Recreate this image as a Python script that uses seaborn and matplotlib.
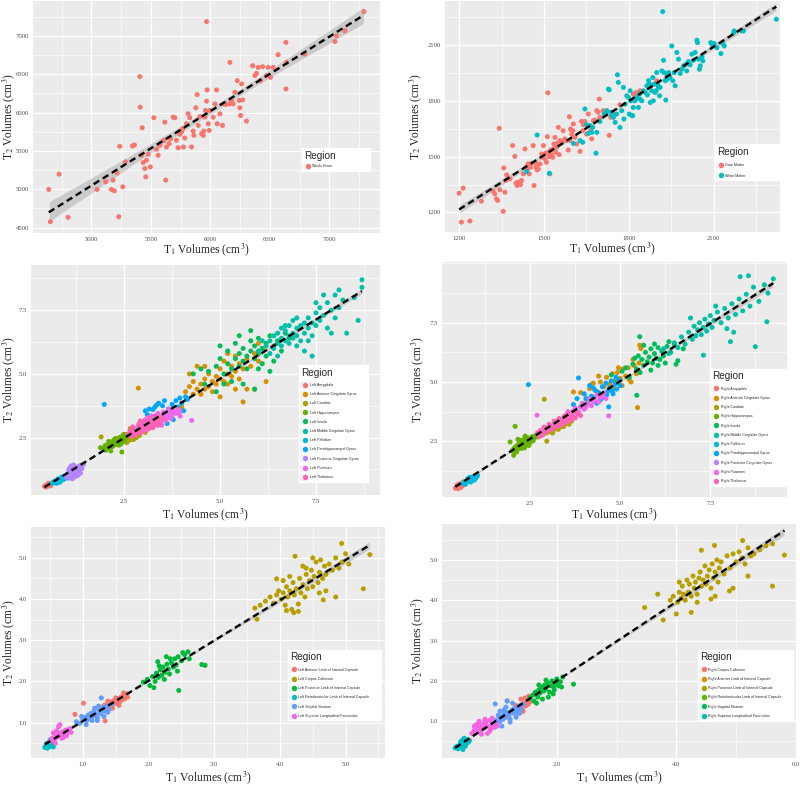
import matplotlib
matplotlib.use("Agg")
import matplotlib.pyplot as plt
import numpy as np
import pandas as pd
import seaborn as sns
from matplotlib.lines import Line2D
from matplotlib.legend_handler import HandlerTuple
from matplotlib.ticker import AutoMinorLocator, FormatStrFormatter

# ---------------- Panel 1: whole brain ----------------
WB_X = [4641,4655,4728,4804,5048,5121,5168,5182,5193,5216,5230,5238,5264,5286,5345,5362,5407,5410,5427,5421,
        5435,5449,5457,5463,5477,5496,5525,5547,5561,5575,5609,5617,5625,5631,5654,5665,5687,5701,5715,5729,
        5743,5757,5766,5774,5785,5799,5813,5827,5842,5855,5861,5878,5889,5898,5912,5926,5940,5945,5955,5959,
        5968,5968,5973,5982,5990,5996,6024,6038,6052,6057,6080,6102,6113,6130,6164,6164,6178,6192,6206,6226,
        6243,6248,6254,6263,6271,6304,6355,6374,6388,6402,6422,6439,6472,6486,6506,6528,6570,6635,6635,6640,
        6794,7047,7061,7131,7291]
WB_Y = [4998,4578,5197,4634,4998,5097,4998,5119,4980,5214,4643,5560,5032,5357,5564,5577,6468,6070,5802,5443,
        5348,5270,5162,5378,5456,5292,5932,5521,5443,5573,5638,5875,5119,5551,5594,5659,5940,5932,5638,5542,
        5716,5746,5789,5551,5668,5854,5984,5932,5551,5759,5703,6062,6234,5832,5949,5724,5703,5759,5940,6027,
        7186,6148,6295,5854,5767,6027,5940,6113,6295,5854,5984,5832,6113,6105,6654,6113,6157,6113,6264,6416,
        6157,6062,5962,6373,6165,5889,6611,6481,6511,6589,6416,6598,6481,6589,6459,6589,6754,6914,6308,6654,
        6762,6926,7000,7065,7316]

# ---------------- Panel 2: gray / white matter ----------------
GM_X = [1200,1214,1208,1238,1279,1320,1326,1332,1336,1342,1344,1356,1358,1365,1368,1362,1380,1389,1397,1401,
        1405,1409,1413,1417,1421,1427,1433,1436,1441,1444,1448,1453,1456,1462,1465,1472,1474,1476,1480,1486,
        1492,1495,1498,1504,1507,1509,1512,1514,1515,1519,1521,1524,1527,1531,1533,1535,1539,1542,1545,1547,
        1551,1554,1557,1563,1568,1574,1580,1586,1590,1592,1594,1598,1602,1604,1610,1616,1628,1633,1637,1639,
        1645,1651,1657,1661,1665,1669,1675,1681,1687,1692,1696,1698,1710,1722,1731,1736,1746,1769,1816,1826,
        1840,1899]
GM_Y = [1304,1331,1148,1154,1261,1315,1300,1273,1265,1653,1322,1206,1440,1372,1402,1309,1381,1560,1502,1358,
        1345,1363,1354,1350,1372,1408,1542,1443,1434,1461,1408,1443,1465,1560,1345,1443,1461,1429,1434,1461,
        1515,1497,1560,1488,1519,1470,1608,1844,1524,1501,1408,1536,1511,1497,1542,1569,1604,1524,1551,1572,
        1658,1511,1587,1578,1640,1596,1587,1536,1715,1587,1649,1622,1640,1676,1604,1569,1529,1690,1640,1672,
        1690,1622,1730,1667,1640,1596,1694,1697,1748,1739,1810,1712,1748,1744,1615,1712,1730,1780,1837,1846,
        1855,1909]
WM_X = [1439,1476,1519,1604,1628,1637,1645,1651,1657,1663,1669,1672,1684,1687,1698,1713,1722,1728,1731,1736,
        1740,1746,1752,1757,1760,1763,1769,1775,1781,1783,1787,1793,1799,1802,1805,1807,1811,1814,1816,1822,
        1828,1834,1838,1840,1846,1852,1858,1864,1866,1870,1873,1876,1881,1885,1887,1890,1893,1897,1899,1902,
        1905,1909,1911,1917,1920,1923,1925,1929,1931,1935,1937,1941,1944,1946,1952,1956,1961,1964,1970,1976,
        1982,1988,1994,2003,2005,2011,2017,2023,2029,2035,2041,2043,2047,2050,2053,2059,2062,2090,2094,2102,
        2112,2126,2133,2138,2171,2173,2200,2206,2322]
WM_Y = [1420,1617,1411,1572,1587,1578,1757,1672,1626,1667,1631,1658,1519,1631,1690,1730,1748,1864,1860,1739,
        1721,1712,1685,1730,1941,1900,1658,1748,1873,1703,1783,1828,1819,1730,1855,1801,1721,1721,1765,1801,
        1819,1765,1837,1810,1801,1855,1846,1882,1833,1909,1891,1792,1855,1926,1801,1891,1846,1855,1953,1891,
        1876,1828,1873,1962,2281,2019,1953,1909,1805,1944,1918,1953,1930,1926,2096,1909,1953,1882,2061,2025,
        1948,1971,1989,1998,1962,2012,1994,2052,2019,2061,2127,2114,2025,1971,1989,2037,2016,2114,2105,2109,
        2087,2055,2109,2096,2168,2177,2177,2177,2240]

# ---------------- Panel 3: left grey-matter regions ----------------
L_AMY_X = [0.42,0.45,0.48,0.50,0.52,0.55,0.57,0.60,0.62,0.46,0.53,0.58,0.65,0.50,0.56]
L_AMY_Y = [0.58,0.62,0.57,0.65,0.60,0.63,0.68,0.66,0.71,0.55,0.70,0.60,0.74,0.59,0.64]
L_ACG_X = [4.1,4.2,4.3,4.3,4.4,4.4,4.5,4.5,4.6,4.6,4.7,4.7,4.8,4.8,4.9,4.9,5.0,5.0,5.1,5.1,5.2,5.2,5.3,5.3,
           5.4,5.4,5.5,5.5,5.6,5.7,5.7,5.8,5.9,6.0,6.1,5.6,5.9,6.2,4.0,2.87,4.2,5.0,5.4,4.6,5.2,6.0]
L_ACG_Y = [4.3,4.5,4.2,4.7,4.4,5.3,4.6,4.2,4.8,4.4,4.5,5.0,4.7,4.3,4.9,4.6,4.8,5.2,4.7,5.5,5.0,4.6,5.3,4.9,
           5.1,5.7,4.8,5.4,5.2,5.6,4.4,5.3,5.8,5.5,6.0,3.9,4.4,4.7,3.7,4.44,5.0,4.1,4.4,5.3,5.8,6.2]
L_CAU_X = [1.90,2.35,2.40,2.45,2.50,2.52,2.55,2.58,2.60,2.62,2.65,2.68,2.70,2.72,2.75,2.78,2.80,2.85,2.88,2.90,
           2.95,3.00,3.05,3.10,2.48,2.66,2.82,2.57,2.92,2.74]
L_CAU_Y = [2.52,2.35,2.45,2.40,2.55,2.35,2.50,2.62,2.45,2.58,2.40,2.68,2.52,2.75,2.60,2.48,2.70,2.65,2.82,2.58,
           2.75,2.80,2.70,2.90,2.62,2.85,2.50,2.30,2.95,2.42]
L_HIP_X = [1.88,1.95,2.00,2.05,2.08,2.12,2.15,2.18,2.20,2.22,2.25,2.28,2.30,2.33,2.35,2.38,2.40,2.42,2.45,2.48,
           2.50,2.55,2.14,2.44,2.02,2.26,2.36,2.52,2.60,2.10]
L_HIP_Y = [2.10,2.05,2.18,2.12,2.25,2.20,1.97,2.30,2.15,2.38,2.28,2.22,2.45,2.35,2.30,2.50,2.40,2.25,2.55,2.45,
           2.35,2.50,2.08,1.93,2.00,2.45,2.20,2.62,2.55,2.35]
L_INS_X = [4.3,4.5,4.7,4.9,5.0,5.1,5.2,5.2,5.3,5.4,5.4,5.5,5.5,5.6,5.6,5.7,5.7,5.8,5.8,5.9,5.9,6.0,6.0,6.1,
           6.1,6.2,6.2,6.3,6.4,6.5,6.6,6.7,5.3,5.6,5.9,6.3,4.9,5.0,5.5,5.8,6.0,6.4,4.6,5.1,6.8]
L_INS_Y = [5.0,5.2,5.1,5.3,5.6,5.0,5.4,5.9,5.2,5.6,6.2,5.3,5.8,5.5,6.0,5.7,5.2,5.9,6.3,5.6,6.1,5.8,6.4,6.0,
           5.4,6.2,5.7,6.5,6.1,6.3,5.9,6.6,4.7,4.6,4.4,5.1,4.3,6.1,6.5,6.7,5.2,5.5,4.6,4.6,6.4]
L_MCG_X = [6.2,6.3,6.4,6.4,6.5,6.5,6.6,6.6,6.7,6.7,6.8,6.8,6.8,6.9,6.9,7.0,7.0,7.0,7.1,7.1,7.2,7.2,7.3,7.3,
           7.4,7.4,7.5,7.5,7.6,7.6,7.7,7.8,7.8,7.9,8.0,8.0,8.1,8.2,8.3,8.5,8.6,8.7,8.7,6.0,6.1,6.3,6.5,6.7,
           7.0,7.2,7.4,6.9,7.5,7.9,8.1,7.7,6.6,7.3]
L_MCG_Y = [6.1,6.3,6.0,6.5,6.2,6.6,6.4,6.1,6.7,6.3,6.5,6.9,6.2,6.6,6.4,6.8,6.1,6.5,6.9,6.3,7.0,6.6,6.8,7.2,
           6.5,7.0,7.4,6.9,7.1,7.6,7.3,7.8,6.8,7.5,7.2,8.1,7.6,7.9,6.6,8.0,7.1,8.4,8.7,5.9,6.3,5.8,5.7,6.9,
           7.2,5.9,5.7,7.1,7.8,6.6,8.3,8.1,6.8,6.3]
L_PAL_X = [0.62,0.66,0.70,0.72,0.75,0.78,0.80,0.83,0.85,0.88,0.90,0.93,0.68,0.74,0.82,0.87,0.95,0.77]
L_PAL_Y = [0.70,0.74,0.72,0.80,0.76,0.82,0.78,0.85,0.80,0.88,0.84,0.92,0.78,0.70,0.74,0.95,0.88,0.87]
L_PHG_X = [1.98,2.75,2.85,2.95,3.05,3.15,3.20,3.30,3.40,3.45,3.50,3.55,3.60,3.65,3.70,3.75,3.80,3.85,3.90,3.95,
           4.00,4.05,4.10,3.25,3.35,3.62,3.78,3.92,3.10,4.15]
L_PHG_Y = [3.80,2.68,2.80,2.75,3.55,3.62,2.90,3.70,3.85,3.10,3.75,3.95,3.40,3.62,3.30,3.80,3.48,3.95,3.70,4.05,
           3.85,3.55,4.10,3.60,3.78,3.05,3.20,3.45,3.40,4.00]
L_PCG_X = [0.98,1.02,1.05,1.08,1.10,1.12,1.15,1.18,1.20,1.22,1.25,1.28,1.30,1.33,1.36,1.40,1.05,1.12,1.18,1.24,
           1.30,1.15,1.22,1.08,1.35,1.27,1.44]
L_PCG_Y = [0.95,1.05,0.90,1.10,1.00,1.20,1.08,1.30,0.95,1.15,1.25,1.05,1.35,1.18,1.10,1.28,1.22,1.38,1.42,0.98,
           1.02,0.88,1.32,1.30,1.40,1.20,1.45]
L_PUT_X = [2.90,2.95,3.00,3.05,3.10,3.15,3.20,3.25,3.30,3.35,3.40,3.45,3.50,3.55,3.60,3.65,3.70,3.75,3.80,3.85,
           3.90,3.95,3.12,3.28,3.42,3.58,3.72,3.38,3.52,3.66,3.22,4.26,3.96,3.05,3.48]
L_PUT_Y = [2.95,2.85,3.05,2.92,3.10,3.00,3.15,3.05,3.25,3.12,3.30,3.18,3.35,3.25,3.40,3.30,3.50,3.38,3.55,3.45,
           3.60,3.52,3.28,2.95,3.05,3.15,3.25,3.45,3.50,3.62,3.35,3.17,3.34,3.20,2.98]
L_THA_X = [2.60,2.65,2.70,2.75,2.80,2.85,2.90,2.95,3.00,3.05,3.10,3.15,3.20,3.25,3.30,3.35,3.40,3.45,3.50,2.72,
           2.88,3.02,3.18,3.32,2.78,2.94,3.08,3.24,3.38,2.68,2.84,3.00,3.14,3.28,3.44,2.92]
L_THA_Y = [2.62,2.75,2.68,2.82,2.72,2.90,2.80,2.98,2.88,3.05,2.95,3.12,3.02,3.20,3.08,3.25,3.15,3.30,3.22,2.92,
           3.02,3.12,3.25,3.35,2.60,2.70,2.78,2.88,2.98,2.55,2.65,2.78,2.85,2.95,3.08,3.15]

# ---------------- Panel 4: right grey-matter regions ----------------
R_AMY_X = [0.42,0.45,0.48,0.50,0.52,0.55,0.58,0.60,0.62,0.65,0.68,0.47,0.53,0.57,0.63,0.70,0.50,0.60]
R_AMY_Y = [0.52,0.58,0.55,0.62,0.58,0.65,0.60,0.70,0.64,0.72,0.68,0.66,0.70,0.55,0.78,0.75,0.50,0.60]
R_ACG_X = [3.70,3.90,4.05,4.15,4.25,4.35,4.45,4.55,4.62,4.70,4.78,4.85,4.92,5.00,5.08,5.15,5.22,5.30,5.38,5.45,
           5.52,5.48,5.57,5.54,4.40,4.60,4.80,5.05,5.25,4.95,5.35,4.20]
R_ACG_Y = [4.58,4.55,4.30,4.72,4.95,4.60,5.00,4.80,5.20,4.90,5.35,5.05,5.40,5.15,5.55,5.25,5.60,5.00,5.70,5.35,
           5.80,3.92,6.41,6.55,5.25,4.50,4.70,4.85,5.10,5.60,5.95,4.90]
R_CAU_X = [2.75,2.80,2.85,2.90,2.95,3.00,3.05,3.10,3.15,3.20,3.25,3.30,3.35,3.40,3.45,3.50,3.55,3.60,3.65,2.89,
           2.96,3.12,3.28,3.42,3.58,3.02,3.18,3.34]
R_CAU_Y = [2.72,2.85,2.78,2.92,2.85,3.00,2.90,3.08,2.98,3.15,3.05,3.20,3.12,3.28,3.18,3.32,3.25,3.40,3.35,4.27,
           2.50,2.85,3.00,3.12,3.22,3.05,3.25,3.38]
R_HIP_X = [1.94,2.00,2.05,2.10,2.15,2.18,2.20,2.22,2.25,2.28,2.30,2.32,2.35,2.38,2.40,2.42,2.45,2.48,2.50,2.55,
           2.60,2.65,2.70,2.08,2.04,2.12,2.26,2.36,2.46,2.58,2.16,2.34]
R_HIP_Y = [2.47,2.10,2.20,2.28,2.15,2.40,2.30,2.48,2.35,2.55,2.42,2.30,2.60,2.48,2.38,2.65,2.50,2.58,2.45,2.70,
           2.62,2.75,2.68,3.13,1.91,2.05,2.20,2.72,2.32,2.52,2.58,2.22]
R_INS_X = [4.75,4.90,5.05,5.15,5.25,5.35,5.45,5.50,5.55,5.60,5.65,5.70,5.75,5.80,5.85,5.90,5.95,6.00,6.05,6.10,
           6.15,6.20,6.30,6.40,6.50,6.60,6.75,5.54,5.46,5.65,5.85,6.05,6.25,6.35,5.40,5.95,6.55]
R_INS_Y = [5.30,5.00,5.45,5.60,5.20,5.75,5.55,6.10,5.40,5.95,5.70,6.25,5.85,6.05,6.40,5.80,6.20,6.00,6.45,5.95,
           6.30,6.10,6.50,6.25,6.60,5.90,6.40,6.91,4.44,6.55,5.50,5.70,5.80,6.70,6.00,6.60,5.75]
R_MCG_X = [6.20,6.35,6.50,6.60,6.70,6.80,6.90,7.00,7.05,7.10,7.15,7.20,7.25,7.30,7.35,7.40,7.45,7.50,7.55,7.60,
           7.70,7.80,7.90,8.00,8.10,8.20,8.30,8.40,8.50,8.60,8.70,8.85,9.00,9.10,9.25,8.33,8.56,7.31,8.06,8.75,
           9.07,7.96,6.95,7.65,8.15]
R_MCG_Y = [6.40,6.20,6.65,6.45,6.90,6.60,7.10,6.80,7.35,6.95,7.20,7.50,7.00,7.30,7.65,7.15,7.45,7.80,7.30,7.60,
           7.95,7.50,8.10,7.70,8.30,7.85,8.50,8.00,8.70,8.20,9.00,8.40,9.10,8.75,9.35,9.44,9.48,6.13,6.70,6.49,
           7.54,7.25,7.70,8.20,7.10]
R_PAL_X = [0.64,0.68,0.72,0.75,0.78,0.80,0.83,0.86,0.88,0.90,0.93,0.96,1.00,1.04,0.76,0.85,0.95,0.82,0.98,0.70]
R_PAL_Y = [0.72,0.80,0.76,0.85,0.80,0.90,0.84,0.95,0.88,1.00,0.92,1.02,0.96,1.05,0.92,0.78,0.86,0.98,1.06,0.68]
R_PHG_X = [2.45,3.70,3.80,3.84,3.90,4.00,4.10,4.15,4.20,4.30,4.35,4.40,4.50,4.55,4.60,4.65,4.70,4.75,4.80,4.85,
           4.90,4.95,5.00,4.45,4.62,4.78,4.25,4.88,4.05,4.68]
R_PHG_Y = [4.89,4.05,4.30,5.17,3.95,4.50,4.20,4.85,4.40,4.65,4.10,4.55,4.80,4.35,4.95,4.60,4.75,5.05,4.50,4.90,
           4.70,5.10,4.85,4.25,4.45,4.62,4.75,5.20,4.30,3.95]
R_PCG_X = [3.20,3.30,3.40,3.50]
R_PCG_Y = [3.25,3.30,3.40,3.45]
R_PUT_X = [3.30,3.40,3.50,3.60,3.70,3.80,3.90,4.00,4.10,4.20,4.30,4.40,4.50,4.60,3.45,3.65,3.85,4.05,4.25,4.45,
           3.55,3.75,3.95,4.15,4.35,2.69,4.68,3.35,4.55,3.25]
R_PUT_Y = [3.45,3.40,3.62,3.55,3.78,3.70,3.95,3.85,4.10,4.00,4.25,4.15,4.40,4.30,3.30,3.50,3.72,3.95,4.18,4.35,
           3.75,3.90,4.10,4.28,4.45,3.60,3.57,3.20,4.55,3.35]
R_THA_X = [2.70,2.78,2.85,2.92,3.00,3.08,3.15,3.22,3.30,3.38,3.45,3.52,3.60,3.68,3.75,3.82,3.90,2.82,2.96,3.10,
           3.24,3.38,3.52,3.66,2.88,3.02,3.16,3.30,3.44,3.58,3.72,2.75]
R_THA_Y = [2.85,2.95,2.90,3.05,3.00,3.15,3.08,3.25,3.18,3.35,3.28,3.45,3.38,3.55,3.48,3.65,3.58,2.75,2.88,3.00,
           3.12,3.22,3.32,3.45,3.10,3.22,3.35,3.45,3.55,3.68,3.75,2.70]

# ---------------- Panel 5: left white-matter regions ----------------
L_ALIC_X = [1.30,1.33,1.36,1.38,1.40,1.42,1.44,1.46,1.48,1.50,1.52,1.54,1.56,1.58,1.60,1.62,1.64,1.66,1.68,1.45,
            1.55,1.62,1.38,1.50,1.01,0.88,1.34]
L_ALIC_Y = [1.38,1.42,1.35,1.45,1.40,1.50,1.43,1.52,1.46,1.55,1.48,1.58,1.50,1.62,1.55,1.66,1.58,1.70,1.62,1.35,
            1.42,1.72,1.52,1.60,1.47,1.20,1.04]
L_CC_X = [3.62,3.65,3.70,3.78,3.85,3.90,3.95,3.98,4.02,4.05,4.08,4.10,4.12,4.15,4.18,4.20,4.22,4.25,4.28,4.30,
          4.32,4.35,4.38,4.40,4.42,4.45,4.48,4.50,4.52,4.55,4.58,4.60,4.62,4.65,4.68,4.70,4.75,4.80,4.85,4.90,
          4.95,5.00,5.05,5.37,5.27,4.23,4.21,4.66,3.95,4.94,4.10,4.35,4.50,4.70,4.28,4.05,4.15,4.40,4.60,4.85]
L_CC_Y = [3.78,3.51,3.85,3.95,4.05,3.90,4.10,4.20,4.00,4.15,3.85,4.30,4.05,4.20,3.75,4.40,4.10,4.25,3.70,4.50,
          4.15,4.35,4.05,4.60,4.25,4.45,4.70,4.30,4.55,4.90,4.40,4.65,4.95,4.50,4.80,4.60,4.85,4.70,5.00,4.75,
          4.90,5.10,4.85,5.08,4.25,5.04,3.67,3.98,4.49,5.35,3.72,4.80,5.00,4.20,3.88,4.45,4.55,4.75,4.15,4.05]
L_PLIC_X = [1.92,1.98,2.02,2.06,2.10,2.12,2.15,2.18,2.20,2.22,2.25,2.28,2.30,2.32,2.35,2.38,2.40,2.42,2.45,2.50,
            2.55,2.60,2.46,2.81,2.86,2.08,2.16,2.24,2.33,2.44,2.52,2.62,2.14,2.27]
L_PLIC_Y = [1.98,2.05,1.90,2.12,2.00,2.20,2.10,2.28,2.15,2.35,2.22,2.42,2.30,2.18,2.45,2.35,2.55,2.40,2.60,2.50,
            2.65,2.72,1.78,2.41,2.39,1.85,2.38,2.05,2.55,2.25,2.70,2.55,2.48,2.60]
L_RLIC_X = [0.42,0.44,0.46,0.48,0.50,0.52,0.54,0.56,0.45,0.50,0.55,0.47]
L_RLIC_Y = [0.40,0.44,0.38,0.48,0.42,0.52,0.46,0.55,0.50,0.58,0.41,0.45]
L_SS_X = [0.90,0.95,1.00,1.03,1.06,1.08,1.10,1.12,1.15,1.17,1.20,1.22,1.25,1.27,1.30,1.33,1.36,1.40,1.44,1.05,
          1.14,1.24,1.32,1.18,1.28,0.98,1.38,1.22]
L_SS_Y = [1.02,0.98,1.08,1.12,1.05,1.18,1.10,1.22,1.15,1.28,1.20,1.12,1.30,1.22,1.35,1.28,1.40,1.32,1.45,0.95,
          1.05,1.40,1.15,1.35,1.60,1.15,1.25,1.05]
L_SLF_X = [0.50,0.53,0.56,0.58,0.60,0.62,0.64,0.66,0.68,0.70,0.72,0.74,0.76,0.78,0.80,0.55,0.63,0.71,0.60,0.68,
           0.75,0.65,0.58,0.82]
L_SLF_Y = [0.55,0.62,0.58,0.68,0.64,0.72,0.66,0.75,0.70,0.78,0.72,0.82,0.76,0.80,0.85,0.75,0.90,0.65,0.80,0.62,
           0.68,0.95,0.50,0.76]

# ---------------- Panel 6: right white-matter regions ----------------
R_ALIC_X = [1.25,1.28,1.32,1.35,1.38,1.40,1.42,1.45,1.48,1.50,1.52,1.55,1.36,1.44,1.30,1.47,1.40,1.53,1.17]
R_ALIC_Y = [1.22,1.30,1.25,1.35,1.28,1.40,1.32,1.45,1.38,1.50,1.42,1.48,1.20,1.25,1.40,1.58,1.55,1.62,1.51]
R_CC_X = [3.47,3.78,3.69,4.00,4.25,5.81,5.61,5.61,5.11,4.64,4.42,4.89,4.58,3.90,3.95,4.02,4.05,4.08,4.10,4.12,
          4.15,4.18,4.20,4.22,4.25,4.28,4.30,4.32,4.35,4.38,4.40,4.42,4.45,4.48,4.50,4.52,4.55,4.58,4.60,4.62,
          4.65,4.68,4.70,4.72,4.75,4.80,4.85,4.90,4.95,5.00,5.05,5.10,5.15,5.20,5.25,5.30,5.40,5.50,5.20,4.35,
          4.65,4.05,4.95]
R_CC_Y = [3.82,3.51,4.15,3.66,3.70,5.12,4.35,5.40,5.48,5.36,5.24,4.23,4.03,4.00,4.10,3.95,4.20,4.05,4.35,4.15,
          4.00,4.50,4.20,4.40,4.10,4.60,4.30,4.45,4.15,4.55,4.70,4.35,4.50,4.85,4.40,4.60,4.75,4.30,4.90,4.55,
          4.70,5.00,4.45,4.80,4.95,4.65,5.10,4.80,5.15,4.95,5.20,5.05,4.90,5.30,5.10,5.15,5.25,5.35,4.60,3.95,
          4.10,4.45,4.30]
R_PLIC_X = [1.55,1.60,1.64,1.68,1.70,1.72,1.75,1.78,1.80,1.82,1.85,1.88,1.90,1.92,1.95,1.98,2.00,2.03,2.06,2.10,
            2.28,1.62,1.76,1.86,1.96,1.70,1.82,1.94,2.08,1.66]
R_PLIC_Y = [1.58,1.65,1.72,1.60,1.78,1.70,1.85,1.75,1.90,1.80,1.95,1.72,1.88,2.00,1.85,1.95,2.05,1.88,1.98,2.10,
            1.92,1.50,1.55,1.60,1.78,1.90,2.02,1.68,1.85,1.45]
R_RLIC_X = [0.30,0.33,0.36,0.38,0.40,0.42,0.44,0.46,0.48,0.50,0.52,0.35,0.41,0.47,0.39,0.45,0.54,0.43]
R_RLIC_Y = [0.34,0.38,0.35,0.42,0.38,0.46,0.40,0.50,0.44,0.55,0.48,0.32,0.52,0.38,0.48,0.58,0.52,0.30]
R_SS_X = [0.95,0.98,1.00,1.03,1.05,1.08,1.10,1.12,1.15,1.18,1.20,1.22,1.25,1.28,1.30,1.33,1.36,1.40,1.44,1.02,
          1.12,1.22,1.32,0.97,1.17,1.26,1.08,1.38,1.15,1.05]
R_SS_Y = [0.95,1.02,0.92,1.05,1.00,1.12,1.05,1.18,1.10,1.22,1.15,1.05,1.28,1.20,1.32,1.25,1.38,1.30,1.42,1.15,
          1.28,0.98,1.10,1.43,1.50,1.45,0.88,1.20,1.35,1.25]
R_SLF_X = [0.58,0.62,0.65,0.68,0.70,0.72,0.75,0.78,0.80,0.82,0.85,0.88,0.90,0.93,0.96,1.00,0.66,0.74,0.84,0.92,
           0.70,0.80,0.88,0.76,0.62,0.98]
R_SLF_Y = [0.70,0.78,0.72,0.85,0.76,0.90,0.80,0.95,0.84,0.98,0.88,1.02,0.82,0.90,0.85,0.88,0.92,0.68,0.70,1.08,
           1.00,1.05,0.76,0.82,0.88,0.95]

# ---------------- labels and colours ----------------
PAL11 = ["#F8766D", "#DB8E00", "#AEA200", "#64B200", "#00BD5C", "#00C1A7",
         "#00BADE", "#00A6FF", "#B385FF", "#EF67EB", "#FF63B6"]
PAL6 = ["#F8766D", "#B79F00", "#00BA38", "#00BFC4", "#619CFF", "#F564E3"]

GM_REGIONS = ["Amygdala", "Anterior Cingulate Gyrus", "Caudate", "Hippocampus", "Insula",
              "Middle Cingulate Gyrus", "Pallidum", "Parahippocampal Gyrus",
              "Posterior Cingulate Gyrus", "Putamen", "Thalamus"]
L_WM_LABELS = ["Left Anterior Limb of Internal Capsule", "Left Corpus Callosum",
               "Left Posterior Limb of Internal Capsule", "Left Retrolenticular Limb of Internal Capsule",
               "Left Sagittal Stratum", "Left Superior Longitudinal Fasciculus"]
R_WM_LABELS = ["Right Corpus Callosum", "Right Anterior Limb of Internal Capsule",
               "Right Posterior Limb of Internal Capsule", "Right Retrolenticular Limb of Internal Capsule",
               "Right Sagittal Stratum", "Right Superior Longitudinal Fasciculus"]


def frame(groups):
    parts = []
    for name, xs, ys in groups:
        parts.append(pd.DataFrame({"T1": xs, "T2": ys, "Region": name}))
    return pd.concat(parts, ignore_index=True)


sns.set_theme(style="darkgrid")
plt.rcParams.update({
    "font.family": ["Liberation Serif", "DejaVu Serif"],
    "mathtext.fontset": "stix",
    "axes.facecolor": "#EBEBEB",
    "figure.facecolor": "white",
})

W, H = 800, 786
fig = plt.figure(figsize=(W / 100, H / 100), dpi=100)


def panel(box, df, order, colors, xlim, ylim, ticks, fmt, leg, leg_labels, key_colors, spacing,
          xlab_y, ylab_x):
    l, t, r, b = box
    ax = fig.add_axes([l / W, 1 - b / H, (r - l) / W, (b - t) / H])
    ax.set_facecolor("#EBEBEB")
    ax.set_axisbelow(True)
    sns.regplot(data=df, x="T1", y="T2", scatter=False, ax=ax, ci=95, color="black",
                line_kws=dict(ls=(0, (2.8, 1.7)), lw=1.7, zorder=4))
    for coll in ax.collections:
        coll.set_facecolor("#9A9A9A")
        coll.set_alpha(0.4)
        coll.set_zorder(1.5)
    sns.scatterplot(data=df, x="T1", y="T2", hue="Region", hue_order=order,
                    palette=dict(zip(order, colors)), s=13, linewidth=0, alpha=1,
                    ax=ax, legend=False, zorder=2)
    ax.set_xlim(*xlim)
    ax.set_ylim(*ylim)
    ax.set_xticks(ticks[0])
    ax.set_yticks(ticks[1])
    ax.xaxis.set_major_formatter(FormatStrFormatter(fmt))
    ax.yaxis.set_major_formatter(FormatStrFormatter(fmt))
    ax.xaxis.set_minor_locator(AutoMinorLocator(2))
    ax.yaxis.set_minor_locator(AutoMinorLocator(2))
    ax.grid(True, which="major", color="white", lw=0.9)
    ax.grid(True, which="minor", color="white", lw=0.45)
    for s in ax.spines.values():
        s.set_visible(False)
    ax.tick_params(which="major", length=1.8, width=0.5, color="#333333", labelsize=4.8,
                   labelcolor="#4D4D4D", pad=1.0)
    ax.tick_params(which="minor", length=0)
    ax.set_xlabel(r"T$_1$ Volumes (cm$^3$)", fontsize=8.3, color="#222222")
    ax.set_ylabel(r"T$_2$ Volumes (cm$^3$)", fontsize=8.3, color="#222222")
    ax.xaxis.set_label_coords(0.5, xlab_y)
    ax.yaxis.set_label_coords(ylab_x, 0.5)
    ax.xaxis.label.set_va("center")
    ax.yaxis.label.set_va("center")

    handles = [(Line2D([], [], marker="s", ms=4.2, color="#F2F2F2", ls=""),
                Line2D([], [], marker="o", ms=2.8, color=c, ls="")) for c in key_colors]
    x0, x1, ytop, ybot = leg
    lg = ax.legend(handles, leg_labels, handler_map={tuple: HandlerTuple(ndivide=None, pad=0)},
                   loc="upper left", bbox_to_anchor=(x0, ybot, x1 - x0, ytop - ybot), mode="expand",
                   borderaxespad=0, frameon=True, fancybox=False, framealpha=1, edgecolor="white",
                   facecolor="white", prop={"family": "Liberation Sans", "size": 2.6},
                   title="Region", title_fontproperties={"family": "Liberation Sans", "size": 7.2},
                   alignment="left", labelspacing=spacing, handlelength=1.3, handletextpad=0.9,
                   borderpad=0.7)
    lg.set_zorder(6)
    return ax


# Panel 1
df1 = frame([("Whole Brain", WB_X, WB_Y)])
panel((33, 1, 380, 233), df1, ["Whole Brain"], ["#F8766D"], (4509, 7426), (4430, 7454),
      ([5000, 5500, 6000, 6500, 7000], [4500, 5000, 5500, 6000, 6500, 7000]), "%d",
      (0.775, 0.971, 0.366, 0.241), ["Whole Brain"], ["#F8766D"], 1.0, -0.072, -0.07)

# Panel 2
df2 = frame([("Gray Matter", GM_X, GM_Y), ("White Matter", WM_X, WM_Y)])
panel((445, 1, 780, 232), df2, ["Gray Matter", "White Matter"], ["#F8766D", "#00BFC4"],
      (1150, 2335), (1095, 2338), ([1200, 1500, 1800, 2100], [1200, 1500, 1800, 2100]), "%d",
      (0.806, 1.009, 0.381, 0.212), ["Gray Matter", "White Matter"], ["#F8766D", "#00BFC4"], 1.8,
      -0.072, -0.088)

# Panel 3
L_GROUPS = [("Left Amygdala", L_AMY_X, L_AMY_Y), ("Left Anterior Cingulate Gyrus", L_ACG_X, L_ACG_Y),
            ("Left Caudate", L_CAU_X, L_CAU_Y), ("Left Hippocampus", L_HIP_X, L_HIP_Y),
            ("Left Insula", L_INS_X, L_INS_Y), ("Left Middle Cingulate Gyrus", L_MCG_X, L_MCG_Y),
            ("Left Pallidum", L_PAL_X, L_PAL_Y), ("Left Parahippocampal Gyrus", L_PHG_X, L_PHG_Y),
            ("Left Posterior Cingulate Gyrus", L_PCG_X, L_PCG_Y), ("Left Putamen", L_PUT_X, L_PUT_Y),
            ("Left Thalamus", L_THA_X, L_THA_Y)]
df3 = frame(L_GROUPS)
lab3 = ["Left " + r for r in GM_REGIONS]
panel((31, 265, 380, 495), df3, lab3, PAL11, (0.07, 9.17), (0.24, 9.28),
      ([2.5, 5.0, 7.5], [2.5, 5.0, 7.5]), "%.1f",
      (0.768, 0.966, 0.565, 0.048), lab3, PAL11, 1.45, -0.085, -0.064)

# Panel 4
R_GROUPS = [("Right Amygdala", R_AMY_X, R_AMY_Y), ("Right Anterior Cingulate Gyrus", R_ACG_X, R_ACG_Y),
            ("Right Caudate", R_CAU_X, R_CAU_Y), ("Right Hippocampus", R_HIP_X, R_HIP_Y),
            ("Right Insula", R_INS_X, R_INS_Y), ("Right Middle Cingulate Gyrus", R_MCG_X, R_MCG_Y),
            ("Right Pallidum", R_PAL_X, R_PAL_Y), ("Right Parahippocampal Gyrus", R_PHG_X, R_PHG_Y),
            ("Right Posterior Cingulate Gyrus", R_PCG_X, R_PCG_Y), ("Right Putamen", R_PUT_X, R_PUT_Y),
            ("Right Thalamus", R_THA_X, R_THA_Y)]
df4 = frame(R_GROUPS)
lab4 = ["Right " + r for r in GM_REGIONS]
panel((442, 262, 787, 497), df4, lab4, PAL11, (0.05, 9.63), (0.15, 10.06),
      ([2.5, 5.0, 7.5], [2.5, 5.0, 7.5]), "%.1f",
      (0.777, 0.997, 0.545, 0.043), lab4, PAL11, 1.45, -0.077, -0.072)

# Panel 5
df5 = frame([(L_WM_LABELS[0], L_ALIC_X, L_ALIC_Y), (L_WM_LABELS[1], L_CC_X, L_CC_Y),
             (L_WM_LABELS[2], L_PLIC_X, L_PLIC_Y), (L_WM_LABELS[3], L_RLIC_X, L_RLIC_Y),
             (L_WM_LABELS[4], L_SS_X, L_SS_Y), (L_WM_LABELS[5], L_SLF_X, L_SLF_Y)])
panel((31, 527, 385, 758), df5, L_WM_LABELS, PAL6, (0.21, 5.6), (0.14, 5.75),
      ([1, 2, 3, 4, 5], [1, 2, 3, 4, 5]), "%.1f",
      (0.726, 0.989, 0.468, 0.157), L_WM_LABELS, PAL6, 1.45, -0.087, -0.064)

# Panel 6 (point colours follow the tract; legend keys as printed in the figure)
R_WM_ORDER = ["Right Anterior Limb", "Right Corpus Callosum", "Right Posterior Limb",
              "Right Retrolenticular Limb", "Right Sagittal Stratum", "Right SLF"]
df6 = frame([(R_WM_ORDER[0], R_ALIC_X, R_ALIC_Y), (R_WM_ORDER[1], R_CC_X, R_CC_Y),
             (R_WM_ORDER[2], R_PLIC_X, R_PLIC_Y), (R_WM_ORDER[3], R_RLIC_X, R_RLIC_Y),
             (R_WM_ORDER[4], R_SS_X, R_SS_Y), (R_WM_ORDER[5], R_SLF_X, R_SLF_Y)])
panel((442, 524, 797, 758), df6, R_WM_ORDER, PAL6, (0.08, 6.02), (0.09, 5.89),
      ([2, 4, 6], [1, 2, 3, 4, 5]), "%.1f",
      (0.721, 0.989, 0.462, 0.155), R_WM_LABELS, PAL11[:6], 1.45, -0.086, -0.07)

fig.savefig("out.png", dpi=100)
